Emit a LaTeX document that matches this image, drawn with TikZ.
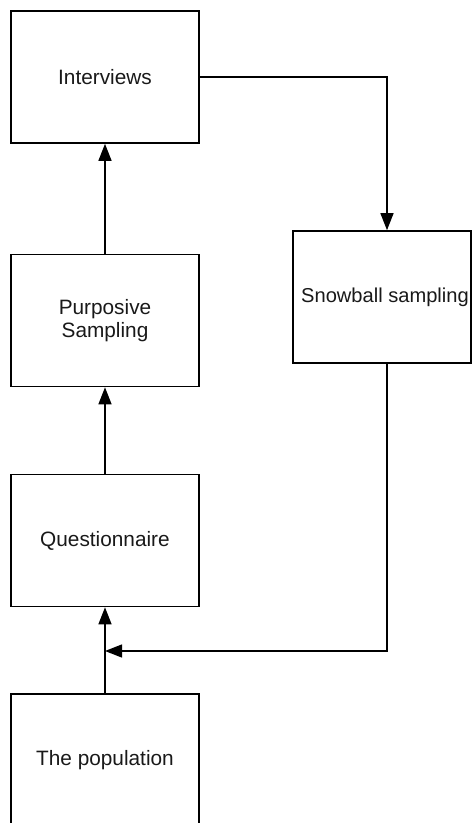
\documentclass[tikz,border=0pt]{standalone}
\usepackage{fontspec}
\setmainfont{Liberation Sans}
\usetikzlibrary{arrows.meta}
\begin{document}
\begin{tikzpicture}[x=1pt,y=-1pt,
  box/.style={draw=black, line width=1.6pt, minimum width=188pt, minimum height=132pt,
    inner sep=0pt, align=center, font=\fontsize{20.8}{23.5}\selectfont, text=black!90},
  label/.style={inner sep=0pt, font=\fontsize{20.1}{23.5}\selectfont, text=black!90},
  link/.style={draw=black, line width=1.3pt, -{Triangle[length=17pt,width=13pt]}}]
\useasboundingbox (0,0) rectangle (472,823);

% process boxes
\node[box] (int)  at (105,77)    {Interviews};
\node[box] (purp) at (105,320.5) {Purposive\\Sampling};
\node[box] (ques) at (105,540.5) {Questionnaire};
\node[box] (pop)  at (105,760)   {The population};
\node[box, minimum width=178pt] (snow) at (382,297) {};
\node[label, anchor=base west] (snowtext) at (301,302) {Snowball sampling};

% feedback junction on the population arrow
\coordinate (join) at (105,651);

% connectors (the side branch runs 5pt right of the snowball box centre)
\draw[link] (int.east) -| ([xshift=5pt]snow.north);
\draw[link] (purp.north) -- (int.south);
\draw[link] (ques.north) -- (purp.south);
\draw[link] (pop.north) -- (ques.south);
\draw[link] ([xshift=5pt]snow.south) |- (join);
\end{tikzpicture}
\end{document}
